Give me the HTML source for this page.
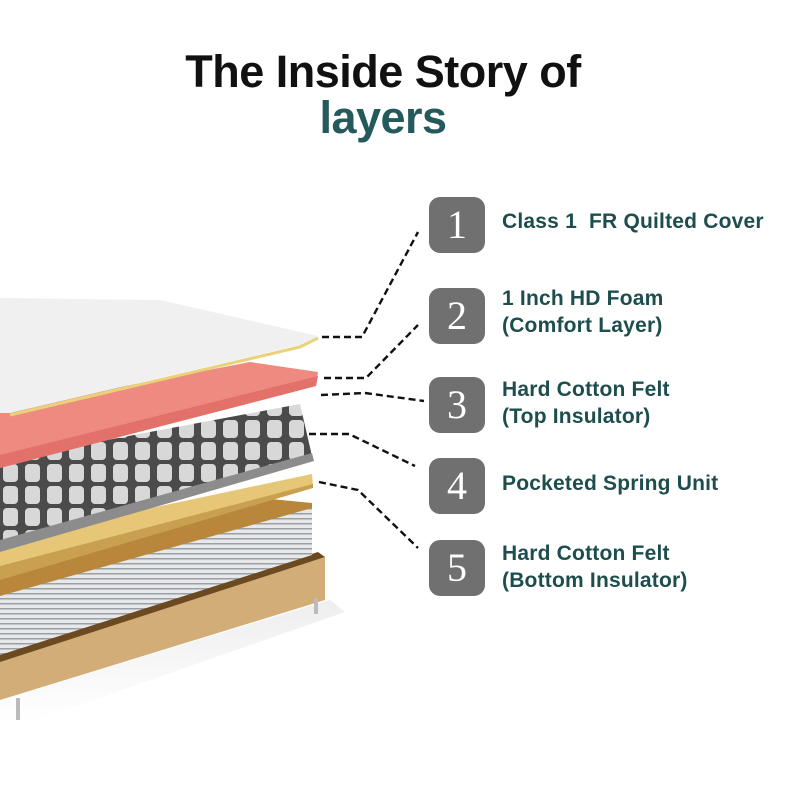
<!DOCTYPE html>
<html><head><meta charset="utf-8"><style>
html,body{margin:0;padding:0;background:#fff;}
body{width:800px;height:800px;position:relative;overflow:hidden;font-family:"Liberation Sans",sans-serif;}
.t{position:absolute;left:0;width:766px;text-align:center;font-weight:bold;font-size:45px;letter-spacing:-0.5px;}
.b{position:absolute;left:429px;width:56px;height:56px;border-radius:11px;background:#707070;color:#fff;font-family:"Liberation Serif",serif;font-size:40px;line-height:56px;text-align:center;}
.l{position:absolute;left:502px;color:#1e4d4e;font-weight:bold;font-size:21px;line-height:27px;letter-spacing:0.2px;}
</style></head><body>
<div class="t" style="top:46px;color:#111;">The Inside Story of</div>
<div class="t" style="top:92px;color:#245a5c;">layers</div>

<svg width="800" height="800" style="position:absolute;left:0;top:0">
<defs>
<linearGradient id="sh" x1="0" y1="0" x2="0" y2="1"><stop offset="0" stop-color="#ddd"/><stop offset="1" stop-color="#fff"/></linearGradient>
<pattern id="st" width="8" height="5" patternUnits="userSpaceOnUse"><rect width="8" height="5" fill="#e6e8ea"/><rect y="3" width="8" height="1.5" fill="#9aa0a6"/></pattern>
<pattern id="sp" width="22" height="22" patternUnits="userSpaceOnUse"><rect width="22" height="22" fill="#4b4b4b"/><rect x="3" y="2" width="15" height="18" rx="4" fill="#d8d8d8"/></pattern>
</defs>
<polygon points="0,700 330,600 345,612 30,722 0,722" fill="url(#sh)" opacity="0.5"/>
<!-- base -->
<polygon points="0,660 325,557 325,600 0,700" fill="#d2ad78"/>
<polygon points="0,652 318,552 325,557 0,662" fill="#6b4a22"/>
<rect x="16" y="698" width="4" height="22" fill="#bbb"/>
<rect x="314" y="598" width="4" height="16" fill="#bbb"/>
<!-- quilted lower -->
<polygon points="0,592 312,506 312,555 0,655" fill="url(#st)"/>
<!-- brown felt -->
<polygon points="0,578 240,496 312,503 312,508 0,596" fill="#b8873c"/>
<!-- yellow felt -->
<polygon points="0,540 312,474 313,486 0,578" fill="#e6c777"/>
<polygon points="0,566 313,484 313,488 0,580" fill="#c9a04f"/>
<!-- springs -->
<polygon points="0,460 300,404 312,456 0,548" fill="url(#sp)"/>
<polygon points="0,540 312,453 314,461 0,552" fill="#8c8c8c"/>
<!-- pink foam -->
<polygon points="0,410 250,362 318,372 316,386 0,468" fill="#ef8a80"/>
<polygon points="0,455 318,376 316,386 0,468" fill="#e2716a"/>
<!-- cover -->
<polygon points="0,298 160,300 318,336 300,345 10,413 0,413" fill="#f0f0f0"/>
<polyline points="318,338 300,347 10,415" fill="none" stroke="#e9d27a" stroke-width="3"/>
<!-- dashed connectors -->
<g fill="none" stroke="#111" stroke-width="2.4" stroke-dasharray="7,4">
<polyline points="322,337 362,337 418,232"/>
<polyline points="324,378 366,378 418,325"/>
<polyline points="321,395 365,393 424,401"/>
<polyline points="309,434 349,434 415,466"/>
<polyline points="319,482 358,490 418,548"/>
</g>
</svg>

<div class="b" style="top:197px">1</div>
<div class="b" style="top:288px">2</div>
<div class="b" style="top:377px">3</div>
<div class="b" style="top:458px">4</div>
<div class="b" style="top:540px">5</div>
<div class="l" style="top:208px">Class 1&nbsp; FR Quilted Cover</div>
<div class="l" style="top:285px">1 Inch HD Foam<br>(Comfort Layer)</div>
<div class="l" style="top:376px">Hard Cotton Felt<br>(Top Insulator)</div>
<div class="l" style="top:470px">Pocketed Spring Unit</div>
<div class="l" style="top:540px">Hard Cotton Felt<br>(Bottom Insulator)</div>
</body></html>
